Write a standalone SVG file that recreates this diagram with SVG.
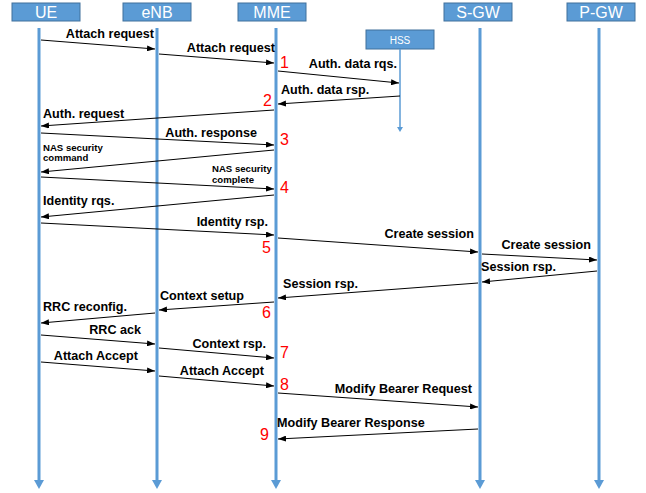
<svg xmlns="http://www.w3.org/2000/svg" width="646" height="493" viewBox="0 0 646 493">
<style>
.hdr{fill:#5b9bd5;stroke:#41719c;stroke-width:1}
.ht{font-family:"Liberation Sans",Arial,sans-serif;font-size:16px;fill:#fff;text-anchor:middle}
.life{stroke:#5b9bd5;stroke-width:3;fill:none}
.msg{stroke:#000;stroke-width:1;fill:none;marker-end:url(#ah)}
.lb{font-family:"Liberation Sans",Arial,sans-serif;font-size:12.6px;font-weight:bold;fill:#000}
.sm{font-family:"Liberation Sans",Arial,sans-serif;font-size:9.6px;font-weight:bold;fill:#000}
.e{text-anchor:end}
.num{font-family:"Liberation Sans",Arial,sans-serif;font-size:16px;fill:#ff0000}
</style>
<defs>
<marker id="ah" markerUnits="userSpaceOnUse" markerWidth="8" markerHeight="6" refX="8" refY="3" orient="auto">
<path d="M0,0 L8,3 L0,6 z" fill="#000"/>
</marker>
<marker id="lh" markerUnits="userSpaceOnUse" markerWidth="10" markerHeight="10" refX="0" refY="5" orient="auto">
<path d="M0,0 L9,5 L0,10 z" fill="#5b9bd5"/>
</marker>
<marker id="hh" markerUnits="userSpaceOnUse" markerWidth="6" markerHeight="6" refX="0" refY="3" orient="auto">
<path d="M0,0 L5,3 L0,6 z" fill="#5b9bd5"/>
</marker>
</defs>
<g id="UE">
<rect class="hdr" x="12" y="3" width="68" height="18"/>
<text class="ht" x="46" y="18">UE</text>
<line class="life" x1="39" y1="28" x2="39" y2="480" marker-end="url(#lh)"/>
</g>
<g id="eNB">
<rect class="hdr" x="123" y="3" width="68" height="18"/>
<text class="ht" x="157" y="18">eNB</text>
<line class="life" x1="157" y1="28" x2="157" y2="480" marker-end="url(#lh)"/>
</g>
<g id="MME">
<rect class="hdr" x="238" y="3" width="68" height="18"/>
<text class="ht" x="272" y="18">MME</text>
<line class="life" x1="276" y1="28" x2="276" y2="480" marker-end="url(#lh)"/>
</g>
<g id="HSS">
<rect class="hdr" x="366" y="30" width="68" height="19"/>
<text class="ht" x="400" y="44" style="font-size:10px">HSS</text>
<line x1="400" y1="49" x2="400" y2="127" stroke="#5b9bd5" stroke-width="1.5" marker-end="url(#hh)"/>
</g>
<g id="S-GW">
<rect class="hdr" x="444" y="3" width="68" height="18"/>
<text class="ht" x="478" y="18">S-GW</text>
<line class="life" x1="480" y1="28" x2="480" y2="480" marker-end="url(#lh)"/>
</g>
<g id="P-GW">
<rect class="hdr" x="567" y="3" width="68" height="18"/>
<text class="ht" x="601" y="18">P-GW</text>
<line class="life" x1="599" y1="28" x2="599" y2="480" marker-end="url(#lh)"/>
</g>
<g id="connectors">
<line class="msg" x1="41" y1="40" x2="155" y2="49"/>
<line class="msg" x1="159" y1="54" x2="274" y2="63"/>
<line class="msg" x1="278" y1="71" x2="399" y2="83"/>
<line class="msg" x1="400" y1="96" x2="278" y2="104"/>
<line class="msg" x1="274" y1="110" x2="41" y2="126"/>
<line class="msg" x1="41" y1="133" x2="274" y2="145"/>
<line class="msg" x1="274" y1="150" x2="41" y2="172"/>
<line class="msg" x1="41" y1="177" x2="274" y2="189"/>
<line class="msg" x1="274" y1="195" x2="41" y2="217"/>
<line class="msg" x1="41" y1="223" x2="274" y2="235"/>
<line class="msg" x1="278" y1="238" x2="478" y2="252"/>
<line class="msg" x1="482" y1="254" x2="597" y2="260"/>
<line class="msg" x1="597" y1="271" x2="482" y2="282"/>
<line class="msg" x1="478" y1="283" x2="278" y2="298"/>
<line class="msg" x1="274" y1="302" x2="159" y2="310"/>
<line class="msg" x1="155" y1="313" x2="41" y2="323"/>
<line class="msg" x1="41" y1="335" x2="155" y2="344"/>
<line class="msg" x1="159" y1="348" x2="274" y2="358"/>
<line class="msg" x1="41" y1="362" x2="155" y2="371"/>
<line class="msg" x1="159" y1="376" x2="274" y2="386"/>
<line class="msg" x1="278" y1="393" x2="478" y2="407"/>
<line class="msg" x1="478" y1="429" x2="278" y2="439"/>
</g>
<g id="labels">
<text class="lb e" x="154" y="38">Attach request</text>
<text class="lb e" x="275" y="52">Attach request</text>
<text class="lb e" x="397" y="68">Auth. data rqs.</text>
<text class="lb" x="281" y="94">Auth. data rsp.</text>
<text class="lb" x="43" y="118">Auth. request</text>
<text class="lb e" x="257" y="137">Auth. response</text>
<text class="sm" x="43" y="151">NAS security</text>
<text class="sm" x="43" y="161">command</text>
<text class="sm" x="212" y="172">NAS security</text>
<text class="sm" x="212" y="183">complete</text>
<text class="lb" x="43" y="205">Identity rqs.</text>
<text class="lb e" x="268" y="226">Identity rsp.</text>
<text class="lb e" x="474" y="238">Create session</text>
<text class="lb e" x="591" y="249">Create session</text>
<text class="lb" x="481" y="271">Session rsp.</text>
<text class="lb" x="283" y="288">Session rsp.</text>
<text class="lb" x="160" y="300">Context setup</text>
<text class="lb" x="43" y="311">RRC reconfig.</text>
<text class="lb e" x="141" y="334">RRC ack</text>
<text class="lb e" x="266" y="348">Context rsp.</text>
<text class="lb e" x="138" y="360">Attach Accept</text>
<text class="lb e" x="264" y="375">Attach Accept</text>
<text class="lb e" x="472" y="393">Modify Bearer Request</text>
<text class="lb" x="277" y="427">Modify Bearer Response</text>
</g>
<g id="steps">
<text class="num" x="280" y="68">1</text>
<text class="num" x="263" y="106">2</text>
<text class="num" x="280" y="145">3</text>
<text class="num" x="280" y="193">4</text>
<text class="num" x="262" y="253">5</text>
<text class="num" x="262" y="318">6</text>
<text class="num" x="280" y="358">7</text>
<text class="num" x="280" y="390">8</text>
<text class="num" x="260" y="440">9</text>
</g>
</svg>
